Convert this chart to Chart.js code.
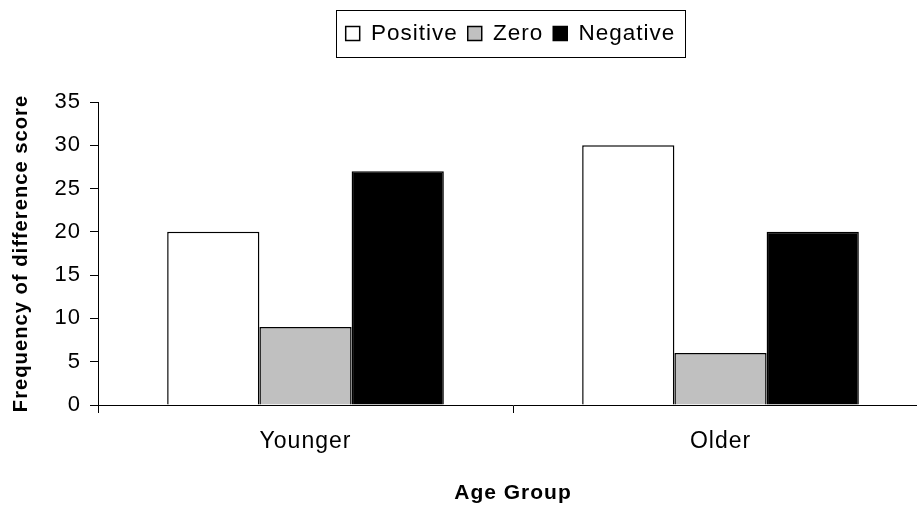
<!DOCTYPE html>
<html>
<head>
<meta charset="utf-8">
<title>Frequency of difference score by age group</title>
<script src="https://cdn.jsdelivr.net/npm/chart.js@4/dist/chart.umd.min.js"></script>
<style>
  html, body { margin: 0; padding: 0; background: #ffffff; overflow: hidden; }
  /* the canvas is a little wider than the visible frame, so the plot runs off the right edge */
  #wrap { width: 917px; height: 508px; overflow: hidden; }
  canvas { display: block; }
</style>
</head>
<body>
<div id="wrap"><canvas id="chart" width="930" height="508"></canvas></div>
<script>
// Categories and series values
const categories = ['Younger', 'Older'];
const positive = [20, 30];
const zero = [9, 6];
const negative = [27, 20];
const seriesNames = ['Positive', 'Zero', 'Negative'];
const yTicks = [0, 5, 10, 15, 20, 25, 30, 35];

const FONT = "'Liberation Sans', Arial, sans-serif";
const SPACING = '1px';

// Slightly wider letter spacing for all chart text
const textSpacing = {
  id: 'textSpacing',
  beforeUpdate(chart) { chart.ctx.letterSpacing = SPACING; },
  beforeDraw(chart) { chart.ctx.letterSpacing = SPACING; }
};

// Center the legend over the plot area rather than the whole canvas
const legendOverPlot = {
  id: 'legendOverPlot',
  afterLayout(chart) {
    const lg = chart.legend;
    if (!lg) return;
    lg.left = chart.chartArea.left;
    lg.right = chart.chartArea.right - 5;
  }
};

// Draws a thin frame around the legend items
const legendFrame = {
  id: 'legendFrame',
  afterDraw(chart) {
    const lg = chart.legend;
    if (!lg || !lg.legendHitBoxes || !lg.legendHitBoxes.length) return;
    const boxes = lg.legendHitBoxes;
    let minX = Infinity, maxX = -Infinity, cy = 0;
    boxes.forEach(b => {
      minX = Math.min(minX, b.left);
      maxX = Math.max(maxX, b.left + b.width);
      cy += b.top + b.height / 2;
    });
    cy /= boxes.length;
    const ctx = chart.ctx;
    ctx.save();
    ctx.strokeStyle = '#000000';
    ctx.lineWidth = 1;
    const x0 = Math.round(minX - 10), x1 = Math.round(maxX + 10);
    const y0 = Math.round(cy - 23.5);
    ctx.strokeRect(x0 + 0.5, y0 + 0.5, x1 - x0, 47);
    ctx.restore();
  }
};

new Chart(document.getElementById('chart'), {
  type: 'bar',
  data: {
    labels: categories,
    datasets: [
      { label: seriesNames[0], data: positive, backgroundColor: '#ffffff', borderColor: '#000000', borderWidth: 1.5 },
      { label: seriesNames[1], data: zero, backgroundColor: '#c0c0c0', borderColor: '#000000', borderWidth: 1.5 },
      { label: seriesNames[2], data: negative, backgroundColor: '#000000', borderColor: '#000000', borderWidth: 1.5 }
    ]
  },
  options: {
    responsive: false,
    animation: false,
    devicePixelRatio: 1,
    layout: { padding: { top: 12.25, right: 2, left: 4, bottom: 0 } },
    datasets: {
      bar: { categoryPercentage: 3 / 4.5, barPercentage: 1.0 }
    },
    plugins: {
      legend: {
        position: 'top',
        labels: {
          color: '#000000',
          font: { family: FONT, size: 22.5 },
          boxWidth: 14,
          boxHeight: 14,
          padding: 10
        }
      },
      // empty spacer line between the legend and the plot
      subtitle: {
        display: true,
        text: ' ',
        position: 'top',
        weight: 500,
        font: { size: 10 },
        padding: { top: 0, bottom: 35.25 }
      },
      tooltip: { enabled: false }
    },
    scales: {
      x: {
        afterFit(scale) { scale.height = 103; },
        grid: { offset: true, drawOnChartArea: false, drawTicks: true, tickLength: 8, color: '#000000' },
        border: { display: true, color: '#000000', width: 1 },
        ticks: { color: '#000000', font: { family: FONT, size: 23 }, padding: 15 },
        title: { display: true, text: 'Age Group', color: '#000000', font: { family: FONT, size: 21, weight: 'bold' }, padding: { top: 0, bottom: 2.5 } }
      },
      y: {
        min: 0,
        max: 35,
        afterBuildTicks(scale) { scale.ticks = yTicks.map(v => ({ value: v })); },
        afterFit(scale) { scale.width = 94; },
        grid: { drawOnChartArea: false, drawTicks: true, tickLength: 8, color: '#000000' },
        border: { display: true, color: '#000000', width: 1 },
        ticks: { color: '#000000', font: { family: FONT, size: 22 }, padding: 9 },
        title: { display: true, text: 'Frequency of difference score', color: '#000000', font: { family: FONT, size: 20.2, weight: 'bold' }, padding: { top: 5.5, bottom: 10 } }
      }
    }
  },
  plugins: [textSpacing, legendOverPlot, legendFrame]
});
</script>
</body>
</html>
